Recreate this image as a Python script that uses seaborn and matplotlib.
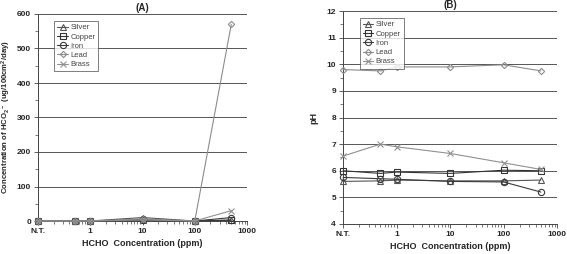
import numpy as np
import pandas as pd
import matplotlib
matplotlib.use("Agg")
import matplotlib.pyplot as plt
import seaborn as sns
from matplotlib.ticker import FixedLocator, MultipleLocator, NullFormatter

sns.set_style("white")
plt.rcParams["font.family"] = ["Liberation Sans", "DejaVu Sans"]
plt.rcParams["font.weight"] = "bold"
plt.rcParams["mathtext.fontset"] = "custom"
plt.rcParams["mathtext.rm"] = "Liberation Sans:bold"
plt.rcParams["mathtext.bf"] = "Liberation Sans:bold"
plt.rcParams["mathtext.default"] = "bf"

# HCHO concentration (ppm); N.T. plotted at 0.1
hcho = [0.1, 0.5, 1, 10, 100, 500]
metals = ["Silver", "Copper", "Iron", "Lead", "Brass"]

# (A) formate concentration
hco2_silver = [0, 0, 0, 10, 0, 2]
hco2_copper = [0, 0, 0, 2, 0, 3]
hco2_iron = [0, 0, 0, 5, 0, 10]
hco2_lead = [0, 0, 0, 6, 0, 570]
hco2_brass = [0, 0, 0, 3, 0, 30]

# (B) pH
ph_silver = [5.6, 5.62, 5.65, 5.62, 5.62, 5.65]
ph_copper = [6.0, 5.9, 5.95, 5.9, 6.02, 6.0]
ph_iron = [5.75, 5.7, 5.68, 5.6, 5.58, 5.2]
ph_lead = [9.8, 9.75, 9.9, 9.9, 9.98, 9.75]
ph_brass = [6.55, 7.0, 6.9, 6.65, 6.3, 6.05]

styles = {
    "Silver": dict(marker="^", color="#555555"),
    "Copper": dict(marker="s", color="#333333"),
    "Iron": dict(marker="o", color="#3a3a3a"),
    "Lead": dict(marker="D", color="#8c8c8c"),
    "Brass": dict(marker="x", color="#909090"),
}

df_a = pd.DataFrame({"hcho": hcho * 5,
                     "metal": np.repeat(metals, len(hcho)),
                     "value": hco2_silver + hco2_copper + hco2_iron + hco2_lead + hco2_brass})
df_b = pd.DataFrame({"hcho": hcho * 5,
                     "metal": np.repeat(metals, len(hcho)),
                     "value": ph_silver + ph_copper + ph_iron + ph_lead + ph_brass})

fig = plt.figure(figsize=(5.67, 2.54), dpi=100)
ax_a = fig.add_axes([38 / 567, 1 - 221 / 254, 209 / 567, 207 / 254])
ax_b = fig.add_axes([343 / 567, 1 - 224 / 254, 214 / 567, 213 / 254])


def draw(ax, df):
    for m in metals:
        st = styles[m]
        sub = df[df["metal"] == m]
        size = 3.2 if st["marker"] == "D" else 4.5
        sns.lineplot(data=sub, x="hcho", y="value", ax=ax, color=st["color"],
                     marker=st["marker"], markersize=size, markerfacecolor="none",
                     markeredgecolor=st["color"], markeredgewidth=0.8,
                     linewidth=0.8, label=m, clip_on=False, zorder=3)
    ax.set_xscale("log")
    ax.set_xlim(0.1, 1000)
    ax.xaxis.set_major_locator(FixedLocator([0.1, 1, 10, 100, 1000]))
    ax.set_xticklabels(["N.T.", "1", "10", "100", "1000"])
    ax.xaxis.set_minor_locator(FixedLocator(
        [k * 10.0 ** e for e in range(-1, 3) for k in range(2, 10)]))
    ax.xaxis.set_minor_formatter(NullFormatter())
    ax.tick_params(axis="both", which="major", labelsize=6, length=3,
                   direction="out", width=0.6, color="#444444", pad=2)
    ax.tick_params(axis="both", which="minor", length=2, width=0.5,
                   direction="out", color="#444444")
    ax.tick_params(bottom=True, left=True, which="both")
    ax.grid(axis="y", which="major", color="#555555", linewidth=0.7)
    ax.grid(axis="x", visible=False)
    for s in ["top", "right"]:
        ax.spines[s].set_visible(False)
    for s in ["left", "bottom"]:
        ax.spines[s].set_color("#444444")
        ax.spines[s].set_linewidth(0.7)
    ax.set_xlabel("HCHO  Concentration (ppm)", fontsize=6.5, fontweight="bold", labelpad=3)
    leg = ax.legend(loc="upper left", bbox_to_anchor=(0.06, 0.985), fontsize=5.5,
                    frameon=True, fancybox=False, handlelength=1.4,
                    handletextpad=0.3, borderpad=0.4, labelspacing=0.25)
    leg.get_frame().set_edgecolor("#444444")
    leg.get_frame().set_linewidth(0.6)
    for t in leg.get_texts():
        t.set_fontweight("normal")
        t.set_color("#444444")


draw(ax_a, df_a)
ax_a.set_ylim(0, 600)
ax_a.yaxis.set_major_locator(MultipleLocator(100))
ax_a.yaxis.set_minor_locator(MultipleLocator(50))
ax_a.set_ylabel(r"Concentration of HCO$_2$$^-$ (ug/100cm$^2$/day)", fontsize=5.6,
                fontweight="bold")
ax_a.yaxis.set_label_coords(-0.12, 0.5)
ax_a.set_title("(A)", fontsize=7, fontweight="bold", pad=2)

draw(ax_b, df_b)
ax_b.set_ylim(4, 12)
ax_b.yaxis.set_major_locator(MultipleLocator(1))
ax_b.yaxis.set_minor_locator(MultipleLocator(0.5))
ax_b.set_ylabel("pH", fontsize=6.5, fontweight="bold", labelpad=6)
ax_b.set_title("(B)", fontsize=7, fontweight="bold", pad=2)

fig.savefig("out.png", dpi=100)
